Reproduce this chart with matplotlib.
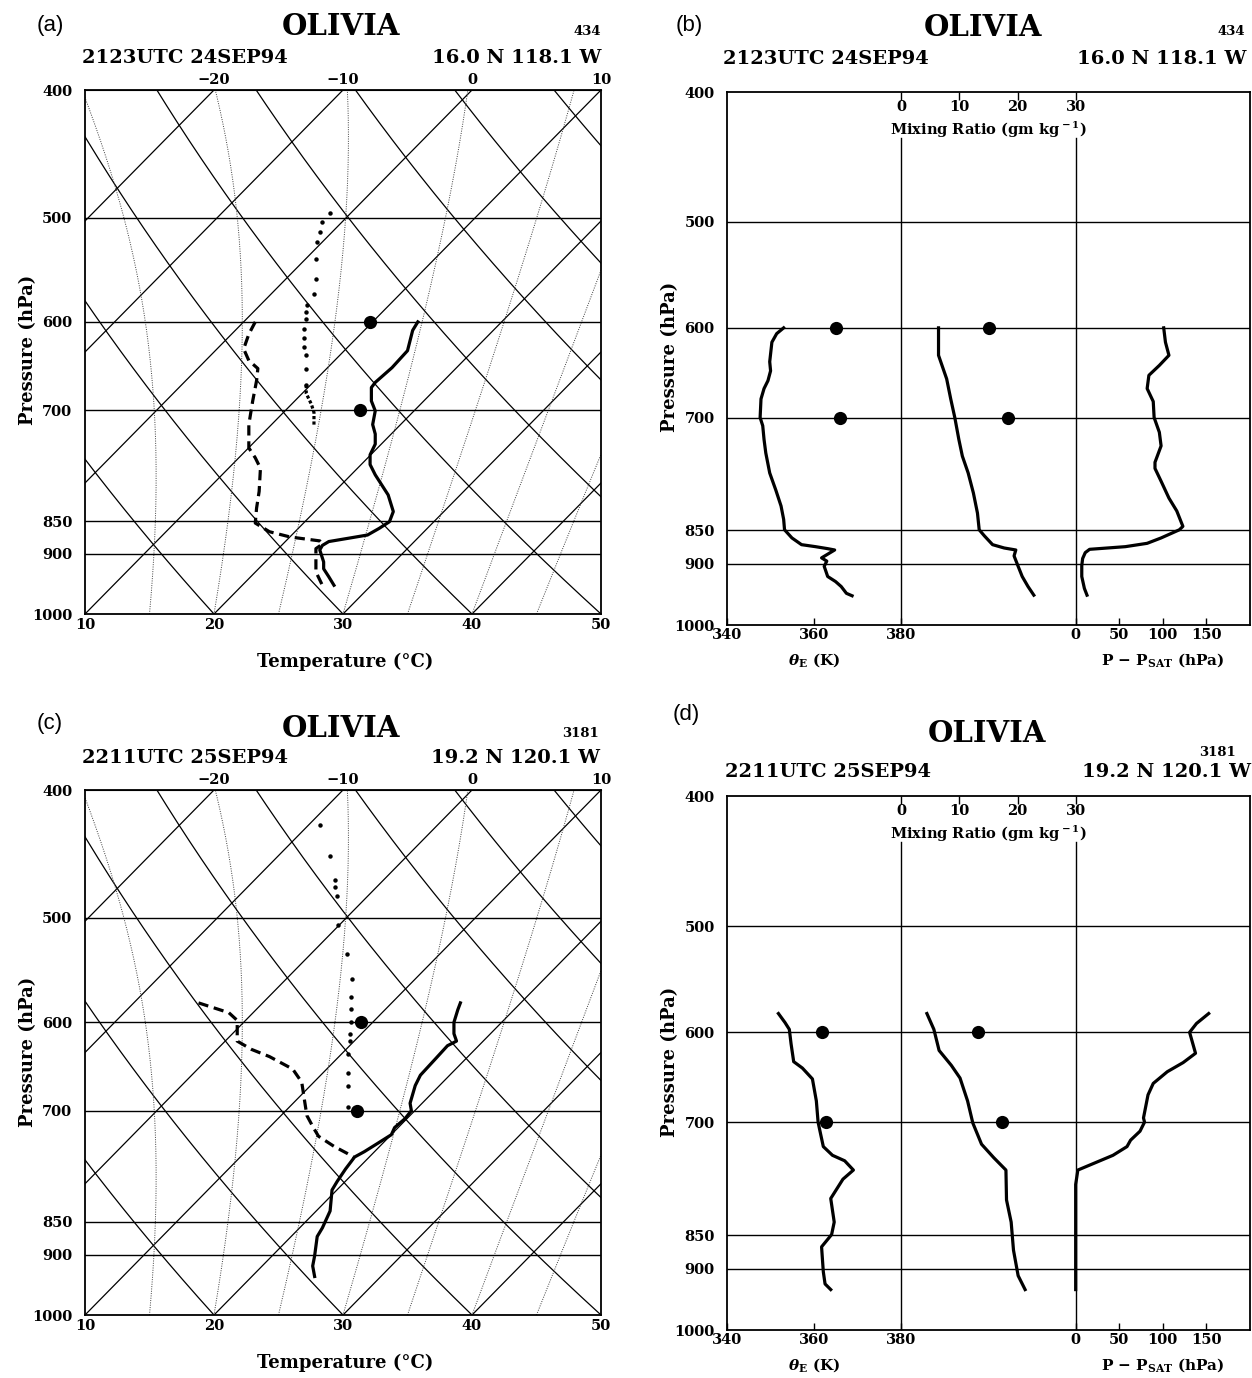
import numpy as np
import matplotlib
matplotlib.use("Agg")
import matplotlib.pyplot as plt
from matplotlib.ticker import NullLocator

plt.rcParams["font.family"] = ["DejaVu Serif"]
plt.rcParams["font.weight"] = "bold"
plt.rcParams["mathtext.fontset"] = "custom"
plt.rcParams["mathtext.rm"] = "DejaVu Serif:bold"
plt.rcParams["mathtext.it"] = "DejaVu Serif:italic:bold"
plt.rcParams["mathtext.bf"] = "DejaVu Serif:bold"

# ---------------------------------------------------------------
# data (pressure in hPa)
# skew-T panels: x is the skewed temperature coordinate of the plot
# ---------------------------------------------------------------
plevels = [400, 500, 600, 700, 850, 900, 1000]
grid_levels = [500, 600, 700, 850, 900]

# (a) 2123 UTC 24 SEP 94
a_solid_p = [600, 609, 631, 650, 667, 673, 689, 701, 718, 730, 743, 757, 770, 784,
             812, 836, 851, 861, 871, 876, 881, 887, 894, 913, 924, 937, 951]
a_solid_x = [35.8, 35.4, 35.0, 33.8, 32.5, 32.2, 32.2, 32.5, 32.3, 32.5, 32.5, 32.1, 32.1, 32.5,
             33.5, 33.9, 33.6, 32.8, 31.9, 30.4, 28.9, 28.4, 28.2, 28.5, 28.5, 28.9, 29.3]
a_dash_p = [600, 613, 629, 642, 651, 665, 689, 718, 748, 761, 775, 807, 831, 853, 866,
            874, 880, 885, 892, 913, 929, 951]
a_dash_x = [23.2, 22.7, 22.3, 22.7, 23.4, 23.3, 23.0, 22.7, 22.7, 23.2, 23.6, 23.5, 23.3, 23.2, 24.3,
            25.9, 28.2, 28.4, 27.9, 27.9, 27.9, 28.4]
a_dot_p = [496, 504, 513, 522, 538, 557, 571, 583, 590, 597, 608, 617, 627, 636, 652, 670]
a_dot_x = [29.0, 28.4, 28.2, 28.0, 27.9, 27.9, 27.75, 27.2, 27.15, 27.15, 27.0, 27.0, 27.0, 27.1, 27.15, 27.15]
a_dotline_p = [670, 680, 693, 703, 720]
a_dotline_x = [27.15, 27.15, 27.55, 27.75, 27.75]
a_big_p = [600, 700]
a_big_x = [32.1, 31.3]

# (b) theta-e (K), mixing ratio (g/kg), P - Psat (hPa)
b_the_p = [600, 606, 615, 636, 646, 657, 666, 678, 700, 710, 727, 744, 770, 793, 815, 834, 849,
           861, 871, 874, 877, 879, 891, 896, 904, 920, 928, 936, 947, 951]
b_the = [353.0, 351.4, 350.3, 349.8, 350.0, 349.4, 348.5, 347.8, 347.6, 348.2, 348.5, 348.9, 349.8,
         351.2, 352.4, 353.0, 353.2, 354.9, 357.1, 360.3, 363.1, 364.7, 361.7, 362.9, 362.3, 363.1,
         364.9, 366.2, 367.4, 368.7]
b_mr_p = [600, 629, 655, 678, 700, 727, 748, 770, 797, 825, 849, 858, 871, 876, 879, 888, 904,
          920, 936, 950]
b_mr = [6.4, 6.4, 7.8, 8.5, 9.2, 9.9, 10.5, 11.5, 12.4, 13.1, 13.4, 14.3, 15.7, 17.7, 19.7, 19.4,
        20.1, 20.8, 21.8, 22.8]
b_dp_p = [600, 615, 629, 640, 651, 666, 681, 700, 718, 735, 756, 764, 781, 804, 822, 844, 849,
          861, 869, 874, 878, 883, 892, 903, 920, 939, 950]
b_dp = [101, 103, 107, 96, 84, 82, 89, 90, 96, 98, 91, 91, 98, 107, 116, 123, 119,
        98, 82, 57, 16, 11, 8, 7, 7, 10, 13]
b_big_p = [600, 700]
b_big_the = [364.9, 366.0]
b_big_mr = [15.1, 18.4]

# (c) 2211 UTC 25 SEP 94
c_solid_p = [580, 587, 600, 612, 620, 625, 639, 658, 670, 691, 700, 710, 721, 730, 741, 752, 759,
             775, 792, 804, 834, 859, 872, 902, 918, 935]
c_solid_x = [39.1, 38.9, 38.6, 38.6, 38.8, 38.1, 37.2, 36.0, 35.6, 35.2, 35.3, 34.8, 34.0, 33.75,
             32.7, 31.65, 30.9, 30.2, 29.55, 29.15, 29.0, 28.4, 28.0, 27.8, 27.65, 27.8]
c_dash_p = [580, 590, 598, 620, 629, 637, 651, 666, 691, 706, 721, 732, 745, 754, 759]
c_dash_x = [18.8, 21.15, 21.8, 21.8, 22.9, 24.3, 26.1, 26.8, 27.05, 27.2, 27.7, 28.1, 29.3, 30.3, 30.8]
c_dot_p = [425, 449, 468, 474, 481, 506, 533, 556, 574, 586, 600, 612, 620, 634, 656, 670, 696]
c_dot_x = [28.2, 29.0, 29.4, 29.4, 29.5, 29.6, 30.3, 30.7, 30.6, 30.6, 30.6, 30.55, 30.55, 30.4,
           30.35, 30.4, 30.4]
c_big_p = [600, 700]
c_big_x = [31.4, 31.1]

# (d)
d_the_p = [581, 590, 597, 612, 631, 638, 650, 675, 700, 715, 730, 741, 748, 760, 772, 798, 831,
           849, 867, 886, 905, 924, 933]
d_the = [351.8, 353.3, 354.3, 354.7, 355.3, 357.3, 359.6, 360.5, 360.9, 361.5, 362.1, 364.2, 367.0,
         369.0, 366.6, 363.8, 364.6, 364.0, 361.7, 361.9, 362.1, 362.5, 363.8]
d_mr_p = [581, 597, 619, 635, 649, 675, 701, 727, 744, 760, 800, 831, 872, 911, 933]
d_mr = [4.4, 5.6, 6.5, 8.6, 10.1, 11.4, 12.3, 13.8, 15.9, 18.0, 18.1, 18.9, 19.3, 20.1, 21.3]
d_dp_p = [581, 591, 600, 622, 632, 642, 655, 668, 695, 700, 711, 722, 730, 741, 760, 779, 933]
d_dp = [152.6, 138.6, 130.7, 137.5, 123.3, 105.1, 89.0, 83.0, 77.8, 79.0, 73.8, 63.0, 58.9, 42.8,
        2.5, 0, 0]
d_big_p = [600, 700]
d_big_the = [361.7, 362.7]
d_big_mr = [13.2, 17.4]

# header texts
storm = "OLIVIA"
times = ["2123UTC 24SEP94", "2211UTC 25SEP94"]
places = ["16.0 N 118.1 W", "19.2 N 120.1 W"]
codes = ["434", "3181"]

# ---------------------------------------------------------------
# figure geometry in pixels
# ---------------------------------------------------------------
W, H = 1252, 1378
fig = plt.figure(figsize=(W / 100, H / 100), dpi=100)


def fx(px):
    return px / W


def fy(py):
    return 1 - py / H


def add_ax(left, top, right, bottom):
    return fig.add_axes([fx(left), fy(bottom), (right - left) / W, (bottom - top) / H])


SKEW = 40.0
LOGR = np.log(1000.0 / 400.0)


def skew(t, p):
    return t + SKEW * np.log(1000.0 / np.asarray(p)) / LOGR


def dTdp(T, p):
    Tc = T - 273.15
    es = 6.112 * np.exp(17.67 * Tc / (Tc + 243.5))
    rs = 0.622 * es / (p - es)
    num = 287.04 * T + 2.501e6 * rs
    den = 1005.7 + 2.501e6 ** 2 * rs * 0.622 / (287.04 * T * T)
    return num / (p * den)


def pseudo_adiabat(tw, p):
    T = tw + 273.15
    out = [T]
    for i in range(1, len(p)):
        dp = p[i] - p[i - 1]
        k1 = dTdp(T, p[i - 1])
        k2 = dTdp(T + k1 * dp, p[i])
        T = T + 0.5 * (k1 + k2) * dp
        out.append(T)
    return np.array(out) - 273.15


def style_pressure_axis(ax):
    ax.set_yscale("log")
    ax.set_ylim(1000, 400)
    ax.set_yticks(plevels)
    ax.set_yticklabels([str(v) for v in plevels])
    ax.yaxis.set_minor_locator(NullLocator())
    ax.tick_params(axis="y", length=0, pad=9, labelsize=10.5)
    for s in ax.spines.values():
        s.set_linewidth(1.3)


def skewt_panel(ax, solid, dash, dots, dotline, big):
    p = np.geomspace(1000, 400, 300)
    for t in range(-30, 60, 10):
        ax.plot(skew(t, p), p, color="k", lw=0.9)
    for th in range(10, 120, 10):
        tk = (th + 273.15) * (p / 1000.0) ** 0.2857 - 273.15
        ax.plot(skew(tk, p), p, color="k", lw=0.9)
    pm = np.arange(1000, 379, -2.0)
    for tw in range(15, 50, 5):
        ax.plot(skew(pseudo_adiabat(tw, pm), pm), pm, color="0.25", lw=0.7,
                linestyle=(0, (1, 1.4)))
    for lev in grid_levels:
        ax.axhline(lev, color="k", lw=1.0)

    ax.plot(solid[0], solid[1], color="k", lw=2.3, solid_joinstyle="round")
    ax.plot(dash[0], dash[1], color="k", lw=2.3, linestyle=(0, (3.2, 1.8)))
    ax.plot(dots[0], dots[1], "o", color="k", ms=3.2, mew=0)
    if dotline is not None:
        ax.plot(dotline[0], dotline[1], color="k", lw=2.3, linestyle=(0, (1, 0.7)))
    ax.plot(big[0], big[1], "o", color="k", ms=9.5, mew=0)

    ax.set_xlim(10, 50)
    style_pressure_axis(ax)
    ax.set_xticks([10, 20, 30, 40, 50])
    ax.tick_params(axis="x", length=0, pad=3, labelsize=10.5)
    top = ax.secondary_xaxis("top", functions=(lambda x: x - SKEW, lambda x: x + SKEW))
    top.set_xticks([-20, -10, 0, 10])
    top.tick_params(length=0, pad=2, labelsize=10.5)


def profile_panel(ax, the, mr, dp, big_the, big_mr, big_p):
    ax.set_xlim(340, 460)
    style_pressure_axis(ax)
    for lev in grid_levels:
        ax.axhline(lev, color="k", lw=1.0)
    ax.plot([380, 380], [1000, 433], color="k", lw=1.0)
    ax.plot([420, 420], [1000, 433], color="k", lw=1.0)

    ax_r = ax.twiny()
    ax_r.set_xlim(-30, 60)
    ax_p = ax.twiny()
    ax_p.set_xlim(-400, 200)
    for a in (ax_r, ax_p):
        for s in a.spines.values():
            s.set_visible(False)

    ax.plot(the[0], the[1], color="k", lw=2.3)
    ax_r.plot(mr[0], mr[1], color="k", lw=2.3)
    ax_p.plot(dp[0], dp[1], color="k", lw=2.3)
    ax.plot(big_the, big_p, "o", color="k", ms=9.5, mew=0)
    ax_r.plot(big_mr, big_p, "o", color="k", ms=9.5, mew=0)

    ax.set_xticks([340, 360, 380])
    ax.tick_params(axis="x", direction="in", length=5, width=1.0, pad=2, labelsize=10.5)
    ax_r.set_xticks([0, 10, 20, 30])
    ax_r.tick_params(axis="x", direction="in", length=6, width=1.0, pad=-16, labelsize=10.5)
    ax_p.xaxis.tick_bottom()
    ax_p.set_xticks([0, 50, 100, 150])
    ax_p.tick_params(axis="x", direction="in", length=5, width=1.0, pad=2, labelsize=10.5)

    ax.text(0.5, 0.929, r"Mixing Ratio (gm kg$^{\rm -1}$)", transform=ax.transAxes,
            ha="center", va="center", fontsize=10.5)
    ax.text(0.166, -0.066, r"$\theta_{\rm E}$ (K)", transform=ax.transAxes,
            ha="center", va="center", fontsize=11)
    ax.text(0.834, -0.066, r"P $-$ P$_{\rm SAT}$ (hPa)", transform=ax.transAxes,
            ha="center", va="center", fontsize=11)


def header(letter, lx, lb, ocx, ob, code, cr, cb, when, where, dl, dr, db):
    fig.text(fx(lx), fy(lb), letter, family="Liberation Sans", weight="normal",
             fontsize=16, ha="left", va="baseline")
    fig.text(fx(ocx), fy(ob), storm, fontsize=21, ha="center", va="baseline")
    fig.text(fx(cr), fy(cb), code, fontsize=9.5, ha="right", va="baseline")
    fig.text(fx(dl), fy(db), when, fontsize=14, ha="left", va="baseline")
    fig.text(fx(dr), fy(db), where, fontsize=14, ha="right", va="baseline")


# panel (a)
ax_a = add_ax(85, 90, 601, 614)
skewt_panel(ax_a, (a_solid_x, a_solid_p), (a_dash_x, a_dash_p), (a_dot_x, a_dot_p),
            (a_dotline_x, a_dotline_p), (a_big_x, a_big_p))
fig.text(fx(345), fy(662), "Temperature (\u00b0C)", fontsize=13, ha="center", va="center")
fig.text(fx(28), fy(350), "Pressure (hPa)", fontsize=13, ha="center", va="center", rotation=90)
header("(a)", 37, 31, 341, 35, codes[0], 601, 35, times[0], places[0], 82, 601, 63)

# panel (b)
ax_b = add_ax(727, 92, 1250, 625)
profile_panel(ax_b, (b_the, b_the_p), (b_mr, b_mr_p), (b_dp, b_dp_p), b_big_the, b_big_mr, b_big_p)
fig.text(fx(670), fy(357), "Pressure (hPa)", fontsize=13, ha="center", va="center", rotation=90)
header("(b)", 676, 31, 983, 36, codes[0], 1245, 35, times[0], places[0], 723, 1246, 64)

# panel (c)
ax_c = add_ax(85, 790, 601, 1315)
skewt_panel(ax_c, (c_solid_x, c_solid_p), (c_dash_x, c_dash_p), (c_dot_x, c_dot_p),
            None, (c_big_x, c_big_p))
fig.text(fx(345), fy(1363), "Temperature (\u00b0C)", fontsize=13, ha="center", va="center")
fig.text(fx(28), fy(1052), "Pressure (hPa)", fontsize=13, ha="center", va="center", rotation=90)
header("(c)", 37, 729, 341, 737, codes[1], 599, 737, times[1], places[1], 82, 600, 763)

# panel (d)
ax_d = add_ax(727, 796, 1250, 1330)
profile_panel(ax_d, (d_the, d_the_p), (d_mr, d_mr_p), (d_dp, d_dp_p), d_big_the, d_big_mr, d_big_p)
fig.text(fx(670), fy(1062), "Pressure (hPa)", fontsize=13, ha="center", va="center", rotation=90)
header("(d)", 673, 720, 987, 742, codes[1], 1236, 756, times[1], places[1], 725, 1251, 777)

fig.savefig("out.png", dpi=100)
